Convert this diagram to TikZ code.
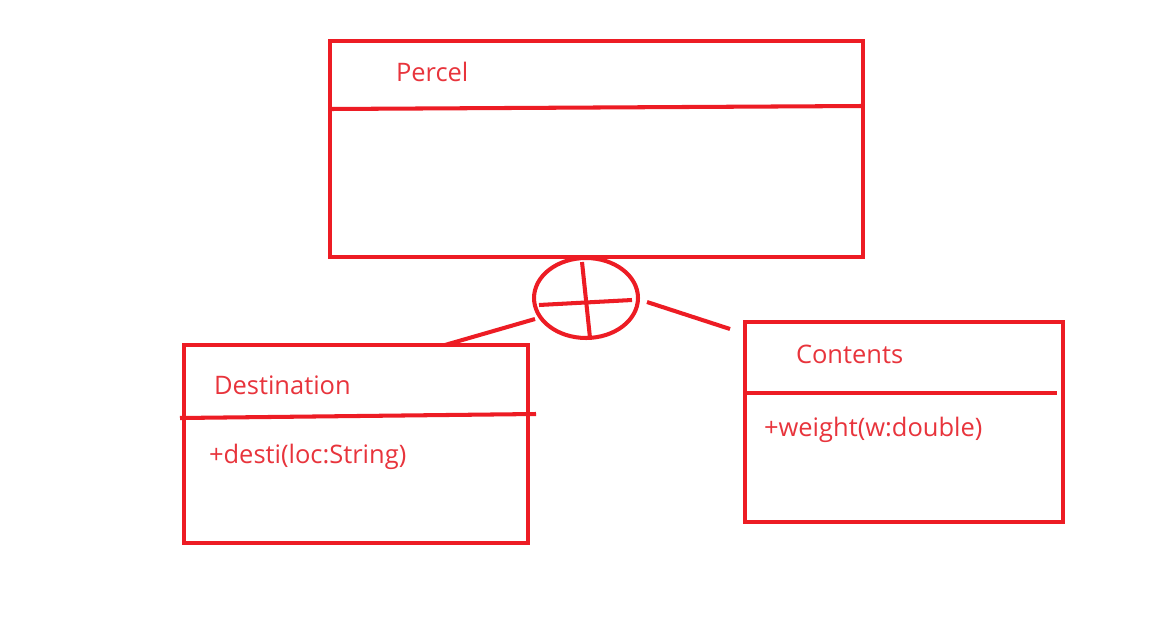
\documentclass[tikz,border=0pt]{standalone}
\usepackage{fontspec}
\setmainfont{Open Sans}
\usetikzlibrary{shapes.geometric}
\definecolor{paintred}{RGB}{237,28,36}
\definecolor{textred}{RGB}{232,52,60}

\begin{document}
\begin{tikzpicture}[x=0.02cm,y=-0.02cm,line width=2.3pt,
    umlbox/.style={rectangle,draw=paintred,minimum width=#1,inner sep=0pt},
    lbl/.style={anchor=west,text=textred,inner sep=0pt,font=\fontsize{14.5}{17}\selectfont}]
  \useasboundingbox[fill=white] (0,0) rectangle (1152,639);
  \draw(596.5,149) node[umlbox=10.66cm,minimum height=4.32cm] (P) {};
  \draw(356,444) node[umlbox=6.88cm,minimum height=3.96cm] (D) {};
  \draw(904,422) node[umlbox=6.36cm,minimum height=4cm] (C) {};
  \draw(586,298) node[ellipse,draw=paintred,minimum width=2.08cm,minimum height=1.6cm,inner sep=0pt] (E) {};
  \draw(394,72) node[lbl] (Pn) {Percel};
  \draw(212,385) node[lbl] (Dn) {Destination};
  \draw(207,457) node[lbl] (Dm) {+desti(loc:String)};
  \draw(794,354) node[lbl] (Cn) {Contents};
  \draw(762,430) node[lbl] (Cm) {+weight(w:double)};
  \coordinate (P1) at (330,109);
  \coordinate (P2) at (863,106);
  \coordinate (D1) at (180,418);
  \coordinate (D2) at (536,414);
  \coordinate (C1) at (745,393);
  \coordinate (C2) at (1057,393);
  \coordinate (H1) at (539,305);
  \coordinate (H2) at (632,300);
  \coordinate (V1) at (582,262);
  \coordinate (V2) at (590,338);
  \coordinate (L1) at (535,319);
  \coordinate (L2) at (445,345);
  \coordinate (R1) at (647,302);
  \coordinate (R2) at (730,329);
  \draw[paintred] (P1) -- (P2);
  \draw[paintred] (D1) -- (D2);
  \draw[paintred] (C1) -- (C2);
  \draw[paintred] (H1) -- (H2);
  \draw[paintred] (V1) -- (V2);
  \draw[paintred] (L1) -- (L2);
  \draw[paintred] (R1) -- (R2);
\end{tikzpicture}
\end{document}
